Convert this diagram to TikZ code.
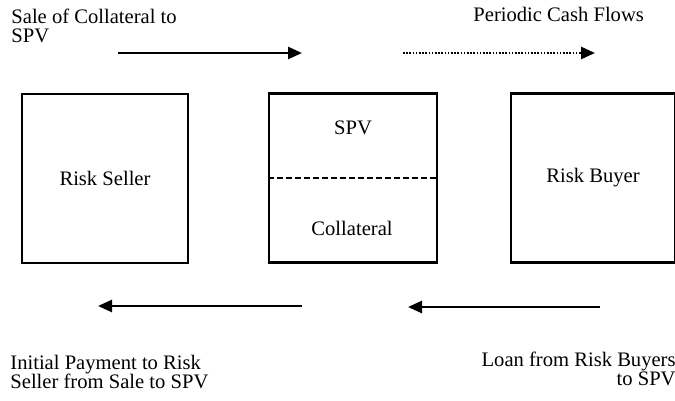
\documentclass[tikz,border=0pt]{standalone}
\usepackage{fontspec}
\setmainfont{Liberation Serif}
\usetikzlibrary{arrows.meta}
\begin{document}
\begin{tikzpicture}[x=0.5pt,y=-0.5pt,
  every node/.style={font=\fontsize{10.3}{9.5}\selectfont},
  party/.style={draw,line width=1.15pt,inner sep=0pt,minimum height=84.5pt},
  label/.style={inner sep=0pt},
  flow/.style={line width=1.3pt,-{Triangle[length=7pt,width=6pt]}},
  dottedflow/.style={flow,dash pattern=on 0.8pt off 0.8pt}]
\useasboundingbox (0,0) rectangle (675,401);
% boxes
\node[party,minimum width=83pt] (seller) at (105,178.5) {Risk Seller};
\node[party,minimum width=84pt] (spv) at (353,178) {};
\node[party,minimum width=82pt] (buyer) at (593,178) {Risk Buyer};
\node[label] (spvtxt) at (353,128) {SPV};
\node[label] (coll) at (352,228) {Collateral};
\draw[line width=1.15pt,dash pattern=on 3pt off 1.5pt] (spv.west) -- (spv.east);
% labels
\node[label,anchor=north west,align=left] (sale) at (11,9) {Sale of Collateral to\\SPV};
\node[label,anchor=base west] (periodic) at (473,22) {Periodic Cash Flows};
\node[label,anchor=north west,align=left] (initial) at (10,355) {Initial Payment to Risk\\Seller from Sale to SPV};
\node[label,anchor=north east,align=right] (loan) at (676,352) {Loan from Risk Buyers\\to SPV};
% arrow end points
\coordinate (a1s) at (118,53); \coordinate (a1e) at (302,53);
\coordinate (a2s) at (403,53); \coordinate (a2e) at (595,53);
\coordinate (a3s) at (302,306); \coordinate (a3e) at (98,306);
\coordinate (a4s) at (600,307); \coordinate (a4e) at (408,307);
\draw[flow] (a1s) -- (a1e);
\draw[dottedflow] (a2s) -- (a2e);
\draw[flow] (a3s) -- (a3e);
\draw[flow] (a4s) -- (a4e);
\end{tikzpicture}
\end{document}
